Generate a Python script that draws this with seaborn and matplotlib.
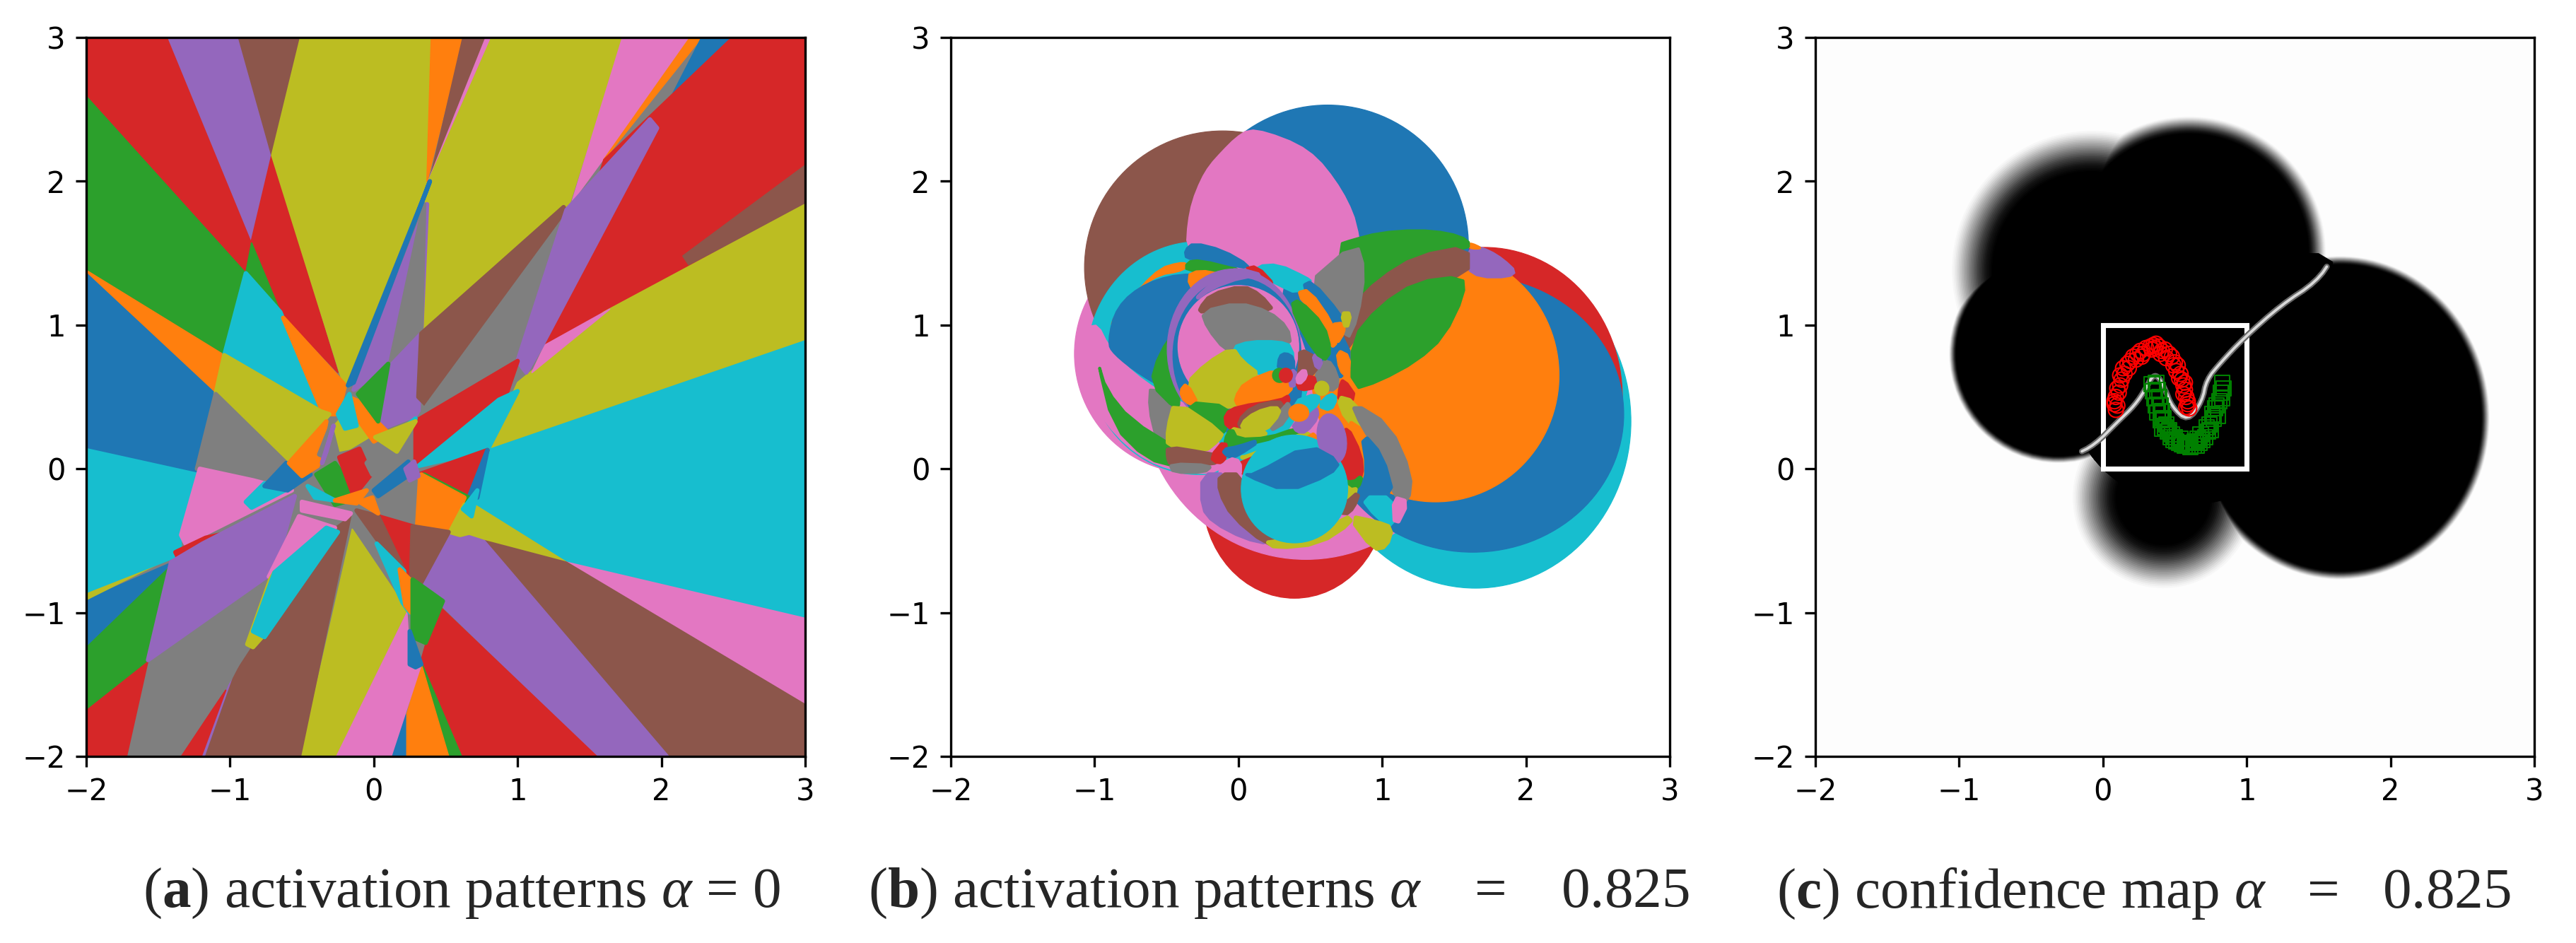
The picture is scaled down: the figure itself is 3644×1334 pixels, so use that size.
import matplotlib
matplotlib.use("Agg")
import matplotlib.pyplot as plt
from matplotlib.patches import Ellipse, Rectangle
import seaborn as sns

sns.set_theme(style="ticks", rc={
    "font.size": 10, "xtick.labelsize": 10, "ytick.labelsize": 10,
    "axes.linewidth": 0.8, "xtick.major.width": 0.8, "ytick.major.width": 0.8,
    "xtick.major.size": 3.5, "ytick.major.size": 3.5,
    "axes.edgecolor": "black", "xtick.color": "black", "ytick.color": "black",
    "mathtext.fontset": "custom", "mathtext.rm": "Liberation Serif",
    "mathtext.it": "Liberation Serif:italic", "mathtext.bf": "Liberation Serif:bold",
})
plt.rcParams["font.family"] = ["DejaVu Sans"]

COLORS = dict(zip("bogrpnkylc", sns.color_palette("tab10")))

TICKS = [-2, -1, 0, 1, 2, 3]
CAPTIONS = [r"($\mathbf{a}$) activation patterns $\alpha$ = 0",
            r"($\mathbf{b}$) activation patterns $\alpha\;\;\;\;=\;\;\;\;$0.825",
            r"($\mathbf{c}$) confidence map $\alpha\;\;\;=\;\;\;$0.825"]

# panel a: regions, painted in order (colour, corner points)
A_OUTER = [
    ("y", [(-2, -2), (3, -2), (3, 3), (-2, 3)]),
    ("r", [(-2, 3), (-1.43, 3), (-.85, 1.59), (-.89, 1.36), (-2, 2.59)]),
    ("p", [(-1.43, 3), (-.94, 3), (-.71, 2.18), (-.85, 1.59)]),
    ("n", [(-.94, 3), (-.51, 3), (-.71, 2.18)]),
    ("r", [(-.71, 2.18), (-.25, .67), (-.65, 1.09), (-.85, 1.59)]),
    ("l", [(-.51, 3), (.40, 3), (.37, 2), (-.2, .55), (-.71, 2.18)]),
    ("o", [(.40, 3), (.62, 3), (.37, 2)]),
    ("n", [(.62, 3), (.78, 3), (.40, 2.05)]),
    ("k", [(.78, 3), (.82, 3), (.38, 2)]),
    ("l", [(.82, 3), (1.73, 3), (1.36, 1.84), (.33, .96), (.35, 1.84), (.38, 2)]),
    ("k", [(1.73, 3), (2.2, 3), (1.6, 2.16), (1.38, 1.86)]),
    ("o", [(2.2, 3), (2.28, 3), (1.6, 2.15)]),
    ("b", [(2.28, 3), (2.49, 3), (2.07, 2.59)]),
    ("r", [(2.49, 3), (3, 3), (3, 1.84), (1.19, .85), (1.6, 2.15)]),
    ("n", [(3, 2.11), (3, 1.84), (2.19, 1.42), (2.15, 1.48)]),
    ("l", [(3, 1.84), (3, .89), (.79, .13), (1, .6), (1.6, 1.09)]),
    ("k", [(1.64, 1.11), (1.1, .67), (1.19, .86)]),
    ("c", [(3, .89), (3, -1.04), (1.34, -.65), (.7, -.25), (.79, .13)]),
    ("l", [(1.34, -.65), (.7, -.25), (.62, -.44), (.77, -.5)]),
    ("k", [(3, -1.04), (3, -1.64), (1.34, -.65)]),
    ("n", [(3, -1.64), (3, -2), (2.05, -2), (.77, -.5), (1.34, -.65)]),
    ("p", [(2.05, -2), (1.55, -2), (.44, -.92), (.29, -.79), (.52, -.42), (.77, -.5)]),
    ("r", [(1.55, -2), (.61, -2), (.33, -1.33), (.44, -.94)]),
    ("g", [(.61, -2), (.52, -2), (.34, -1.37)]),
    ("o", [(.52, -2), (.22, -2), (.23, -1.71), (.33, -1.36)]),
    ("b", [(.22, -2), (.12, -2), (.22, -1.71)]),
    ("k", [(.12, -2), (-.27, -2), (.23, -1), (.25, -1.33), (.33, -1.36)]),
    ("l", [(-.27, -2), (-.51, -2), (-.15, -.42), (.23, -.98)]),
    ("n", [(-1.18, -2), (-.99, -1.46), (-.8, -1.17), (-.31, -.44), (-.16, -.33), (-.51, -2)]),
    ("p", [(-1.18, -2), (-1.2, -2), (-.99, -1.46)]),
    ("r", [(-1.2, -2), (-1.35, -2), (-1.03, -1.54)]),
    ("y", [(-1.35, -2), (-1.72, -2), (-1.57, -1.33), (-.72, -.75), (-.84, -1.17), (-.99, -1.46)]),
    ("r", [(-1.72, -2), (-2, -2), (-2, -1.67), (-1.57, -1.33)]),
    ("g", [(-2, -1.67), (-2, -1.23), (-1.4, -.65), (-1.57, -1.33)]),
    ("b", [(-2, -1.23), (-2, -.91), (-1.4, -.65)]),
    ("l", [(-2, -.91), (-2, -.86), (-1.34, -.58)]),
    ("c", [(-2, -.86), (-2, .15), (-1.23, -.02), (-1.34, -.46), (-1.34, -.6)]),
    ("g", [(-2, 2.59), (-2, 1.38), (-1.04, .79), (-.89, 1.36)]),
    ("g", [(-.85, 1.57), (-.89, 1.36), (-.65, 1.09)]),
    ("o", [(-2, 1.38), (-1.04, .79), (-1.1, .53), (-2, 1.33)]),
    ("b", [(-2, 1.36), (-1.1, .52), (-1.23, -.02), (-2, .15)]),
]
A_MIDDLE = [
    ("c", [(-.89, 1.36), (-1.04, .79), (-.37, .4), (-.65, 1.09)]),
    ("o", [(-.63, 1.05), (-.35, .38), (-.25, .38), (-.2, .58)]),
    ("l", [(-1.04, .79), (-1.1, .52), (-.61, .04), (-.31, .38), (-.37, .4)]),
    ("y", [(-1.1, .52), (-1.23, 0), (-.84, -.08), (-.6, 0), (-.61, .04)]),
    ("k", [(-1.21, 0), (-1.34, -.46), (-1.31, -.52), (-.57, -.15), (-.84, -.08)]),
    ("r", [(-1.38, -.58), (-1.17, -.48), (-.9, -.42), (-1.1, -.55), (-1.36, -.62)]),
    ("p", [(-1.19, -.52), (-.55, -.19), (-.69, -.71), (-1.57, -1.33), (-1.41, -.65)]),
    ("k", [(-.52, -.33), (-.27, -.41), (-.73, -.75)]),
    ("l", [(-.69, -.72), (-.72, -.77), (-.88, -1.22), (-.84, -1.24), (-.76, -1.15)]),
    ("c", [(-.33, -.41), (-.25, -.44), (-.76, -1.17), (-.84, -1.13), (-.69, -.72)]),
    ("c", [(-.89, -.23), (-.76, -.1), (-.62, -.15), (-.85, -.27)]),
    ("b", [(-.76, -.12), (-.61, .04), (-.44, -.04), (-.6, -.15)]),
    ("o", [(-.59, .04), (-.33, .33), (-.39, .02), (-.5, -.05)]),
    ("p", [(-.14, .55), (.37, 1.84), (.33, .96), (.03, .67)]),
    ("y", [(.11, .71), (.35, 1.84), (.33, .96)]),
    ("b", [(-.18, .58), (.36, 1.92), (.39, 2), (-.14, .6)]),
    ("p", [(.11, .71), (.33, .94), (.31, .38), (.03, .27), (.03, .38)]),
    ("n", [(.33, .94), (1.32, 1.82), (1.36, 1.72), (.37, .44), (.31, .5)]),
    ("y", [(1.34, 1.76), (.37, .44), (.3, .33), (1, .75), (1.15, .9)]),
    ("p", [(1.92, 2.43), (1.97, 2.37), (1.17, .86), (1.06, .67), (1, .75), (1.34, 1.8)]),
    ("r", [(.29, .33), (1, .75), (.79, .13), (.29, .04)]),
    ("c", [(.31, .02), (.87, .48), (1, .54), (.79, .13)]),
    ("r", [(.31, -.04), (.79, .13), (.66, -.2)]),
    ("b", [(.66, -.2), (.79, .13), (.72, -.2)]),
    ("g", [(.35, -.04), (.63, -.25), (.66, -.2)]),
    ("o", [(.29, -.08), (.33, -.04), (.63, -.2), (.53, -.44), (.29, -.4)]),
    ("l", [(.53, -.44), (.63, -.25), (.68, -.44), (.6, -.46)]),
    ("c", [(.62, -.28), (.72, -.15), (.68, -.33)]),
    ("y", [(-.05, -.2), (.29, -.08), (.27, -.41), (.03, -.33)]),
    ("r", [(.03, -.33), (.27, -.4), (.26, -.79), (.2, -.75)]),
    ("n", [(.27, -.4), (.52, -.44), (.33, -.79), (.26, -.75)]),
    ("n", [(-.12, -.29), (.03, -.33), (.21, -.71), (.03, -.5)]),
    ("c", [(.02, -.52), (.21, -.71), (.25, -1), (.2, -.93)]),
    ("o", [(.18, -.7), (.27, -.79), (.26, -1.0), (.22, -.95)]),
    ("g", [(.27, -.77), (.48, -.92), (.36, -1.21), (.27, -1.17)]),
    ("b", [(.25, -1.13), (.33, -1.36), (.29, -1.38), (.25, -1.36)]),
]
A_CENTER = [
    ("l", [(-.31, .25), (-.25, .1), (0, .25), (-.19, .38)]),
    ("y", [(-.38, .1), (-.3, .3), (-.25, .1), (-.1, .13), (-.2, .02)]),
    ("p", [(-.36, .04), (-.28, .3), (-.33, .12)]),
    ("g", [(-.4, -.04), (-.27, .04), (-.1, -.2), (-.27, -.25)]),
    ("r", [(-.24, .08), (-.1, .14), (-.02, -.04), (-.14, -.19)]),
    ("y", [(-.05, .04), (.1, .2), (.22, .13), (-.01, -.04)]),
    ("b", [(0, -.15), (.24, .05), (.25, -.04), (.03, -.19)]),
    ("o", [(-.18, .5), (-.1, .33), (0, .19), (.1, .25), (.02, .33), (-.08, .46)]),
    ("g", [(-.11, .52), (.1, .73), (.03, .33)]),
    ("c", [(-.25, .38), (-.17, .52), (-.12, .3), (-.2, .28)]),
    ("c", [(.1, .2), (.29, .35), (.25, .27)]),
    ("l", [(.01, .22), (.16, .12), (.29, .33)]),
    ("k", [(-.5, -.23), (-.16, -.31), (-.2, -.35), (-.5, -.29)]),
    ("c", [(-.46, -.12), (-.27, -.22), (-.41, -.2)]),
    ("o", [(-.27, -.22), (-.05, -.15), (-.12, -.24)]),
    ("o", [(-.1, -.23), (.03, -.31), (-.01, -.2)]),
    ("p", [(.22, 0), (.28, .05), (.31, -.05), (.25, -.08)]),
]

# panel b: discs and lenses, painted back to front (colour, cx, cy, width, height, angle)
B_DISCS = [
    ("c", 1.65, .33, 2.16, 2.32, 0),
    ("r", .39, -.18, 1.28, 1.44, 0),
    ("k", .47, .55, 2.3, 2.36, 0),
    ("r", 1.71, .50, 1.92, 2.08, 0),
    ("b", 1.63, .38, 2.10, 1.92, 0),
    ("b", .62, 1.55, 1.96, 1.96, 0),
    ("o", 1.37, .65, 1.72, 1.76, 0),
    ("k", -.31, .8, 1.66, 1.66, 0),
    ("n", -.11, 1.40, 1.92, 1.90, 0),
    ("c", -.27, .77, 1.56, 1.62, 0),
]
B_BACK = [
    ("p", [(1.6, 1.57), (1.8, 1.5), (1.98, 1.33), (1.58, 1.33)]),
    ("o", [(1.6, 1.58), (1.71, 1.53), (1.6, 1.53)]),
    ("k", [(-1.01, 1.07), (-.87, .79), (-.57, .54), (-.21, .38), (-.06, -.03), (-.41, -.03),
           (-.71, .09), (-.98, .38), (-1.14, .75)]),
    ("o", [(-.9, .95), (-.6, 1.38), (-.36, 1.45), (-.36, 1.38), (-.6, 1.34), (-.85, 1.1)]),
    ("b", [(-.91, .88), (-.85, 1.13), (-.64, 1.30), (-.34, 1.37), (.11, 1.30), (.37, 1.05),
           (.49, .34), (-.08, .42), (-.41, .50), (-.68, .65), (-.87, .80)]),
]
B_LENS = [
    ("k", [(.07, 2.36), (.2, 2.34), (.41, 2.26), (.55, 2.16), (.67, 2.01), (.76, 1.86), (.82, 1.71),
           (.86, 1.46), (.86, 1.2), (.7, .9), (.3, .7), (-.1, .9), (-.36, 1.55), (-.35, 1.71),
           (-.32, 1.86), (-.26, 2.01), (-.2, 2.11), (-.11, 2.21), (-.02, 2.3)]),
]
B_RIGHT = [
    ("g", [(.7, 1.56), (.79, 1.59), (.98, 1.64), (1.24, 1.66), (1.46, 1.64), (1.6, 1.59), (1.6, 1.53),
           (1.24, 1.48), (.98, 1.32), (.79, 1.13), (.7, 1.0)]),
    ("n", [(.7, 1.0), (.79, 1.13), (.98, 1.32), (1.24, 1.48), (1.6, 1.55), (1.6, 1.34), (1.24, 1.32),
           (.98, 1.13), (.79, .88), (.7, .75)]),
    ("g", [(.79, .9), (.98, 1.13), (1.24, 1.30), (1.56, 1.34), (1.57, 1.21), (1.43, .92),
           (1.24, .75), (.98, .61), (.79, .55)]),
    ("y", [(.45, 1.26), (.82, 1.58), (.88, 1.38), (.83, 1.05), (.75, .88)]),
    ("b", [(.28, 1.27), (.47, 1.27), (.77, .88), (.77, .64), (.54, .64), (.42, 1.0)]),
    ("c", [(.13, 1.41), (.28, 1.42), (.47, 1.33), (.51, 1.30), (.41, 1.22), (.28, 1.28), (.15, 1.35)]),
    ("y", [(-.61, .59), (-.43, .41), (-.47, .25), (-.49, .04), (-.57, .21), (-.62, .42)]),
    ("g", [(-.61, .59), (-.55, .80), (-.41, 1.0), (-.41, .46), (-.43, .41)]),
    ("g", [(-.98, .75), (-.92, .55), (-.75, .34), (-.41, .13), (-.41, .01), (-.64, .07),
           (-.87, .30)]),
    ("g", [(-.36, 1.43), (-.26, 1.47), (.02, 1.40), (-.11, 1.35), (-.36, 1.38)]),
    ("b", [(-.37, 1.52), (-.31, 1.57), (-.11, 1.52), (.08, 1.41), (.02, 1.40), (-.26, 1.47), (-.36, 1.46)]),
    ("o", [(-.36, 1.34), (-.27, 1.38), (-.11, 1.35), (-.29, 1.19)]),
    ("r", [(.04, 1.39), (.13, 1.41), (.26, 1.27), (.15, 1.35)]),
]
B_RINGS = [
    ("p", -.03, .83, .93, 1.12, 0),
    ("b", -.01, .79, .89, 1.08, 0),
    ("k", 0, .85, .84, .85, 0),
]
B_INNER = [
    ("p", [(-.31, 1.17), (-.11, 1.35), (0, 1.39), (.18, 1.34), (.03, 1.34), (-.19, 1.26)]),
    ("n", [(-.27, 1.11), (-.19, 1.21), (.03, 1.27), (.15, 1.21), (.25, 1.09), (0, 1.15), (-.25, 1.09)]),
    ("y", [(-.25, 1.09), (0, 1.15), (.21, 1.09), (.34, .98), (.36, .86), (.21, .89), (-.04, .85),
           (-.09, .83), (-.21, .98)]),
    ("c", [(-.04, .84), (.08, .88), (.28, .88), (.37, .85), (.38, .67), (.28, .69), (.15, .65), (.02, .75)]),
    ("l", [(-.36, .59), (-.22, .73), (-.04, .84), (.02, .75), (.15, .65), (.03, .57), (-.02, .47),
           (0, .43), (-.27, .44)]),
    ("o", [(-.4, .54), (-.36, .59), (-.28, .44), (-.37, .47)]),
    ("b", [(.28, .69), (.29, .78), (.33, .80), (.38, .77), (.38, .67)]),
    ("o", [(-.02, .49), (.05, .60), (.28, .69), (.37, .60), (.36, .54), (.25, .47), (0, .44)]),
    ("p", [(.37, .69), (.41, .65), (.39, .58), (.36, .58)]),
    ("g", [(-.37, .46), (-.06, .43), (-.09, .29), (-.11, .25), (-.24, .29)]),
    ("l", [(-.44, .47), (-.11, .25), (-.14, .2), (-.24, .12), (-.49, .15), (-.49, .28)]),
    ("n", [(-.49, .15), (-.24, .11), (-.1, .08), (-.19, .03), (-.47, .03), (-.49, .08)]),
    ("y", [(-.47, .03), (-.19, .02), (-.24, -.02), (-.45, -.02)]),
    ("r", [(-.09, .38), (0, .43), (.29, .47), (.36, .51), (.31, .39), (.02, .28), (-.08, .29)]),
    ("n", [(0, .33), (.10, .43), (.28, .47), (.31, .43), (.21, .29), (.03, .26)]),
    ("y", [(.29, .39), (.36, .47), (.33, .33), (.21, .26)]),
    ("l", [(.02, .31), (.12, .39), (.26, .43), (.29, .39), (.18, .26), (.05, .26)]),
    ("l", [(-.05, .28), (.03, .26), (.21, .26), (.12, .2), (-.03, .2)]),
    ("g", [(-.09, .2), (-.05, .28), (-.01, .2), (.21, .21), (.41, .28), (.44, .25), (.15, .2),
           (.02, .15), (-.08, .15)]),
    ("r", [(-.19, .08), (-.09, .2), (-.09, .07), (-.14, .04)]),
    ("b", [(-.11, .13), (0, .15), (.15, .2), (0, .1), (-.06, .08)]),
    ("l", [(.05, .08), (.25, .16), (.47, .25), (.5, .23), (.38, .1), (.13, .07), (.02, .08)]),
    ("r", [(.02, .07), (.38, .1), (.44, .15), (.34, .02), (.15, -.05), (.03, -.05)]),
    ("k", [(-.14, -.02), (-.06, .07), (.01, .05), (.01, -.05), (-.08, -.07)]),
    ("p", [(.38, .31), (.54, .43), (.55, .36), (.47, .26), (.41, .26)]),
    ("c", [(.38, .46), (.55, .52), (.56, .46), (.46, .38)]),
    ("c", [(.56, .44), (.64, .52), (.68, .49), (.64, .41)]),
    ("y", [(.54, .64), (.59, .75), (.65, .73), (.70, .59), (.64, .54), (.54, .60)]),
    ("n", [(.43, .83), (.54, .77), (.54, .67), (.42, .63), (.43, .73)]),
    ("p", [(.52, .8), (.58, .75), (.55, .69)]),
    ("r", [(.41, .60), (.52, .65), (.54, .57), (.43, .55)]),
    ("k", [(.41, .64), (.46, .69), (.47, .64), (.42, .59)]),
    ("r", [(.73, .62), (.82, .49), (.70, .47), (.71, .57)]),
    ("o", [(.69, .82), (.77, .78), (.76, .64), (.71, .69)]),
    ("b", [(.45, 1.27), (.51, 1.30), (.70, 1.08), (.73, 1.0), (.67, 1.01), (.54, 1.17)]),
    ("o", [(.41, 1.22), (.49, 1.24), (.65, 1.01), (.68, .88), (.65, .85), (.54, 1.08)]),
    ("g", [(.37, 1.14), (.42, 1.17), (.59, 1.0), (.64, .82), (.59, .75), (.46, .93)]),
    ("o", [(.65, 1.0), (.73, 1.01), (.73, .95), (.68, .87)]),
    ("l", [(.72, 1.08), (.78, 1.08), (.75, .97)]),
    ("l", [(.69, .5), (.8, .47), (.89, .29), (.89, .25), (.75, .34)]),
    ("o", [(.75, .34), (.89, .25), (.9, .1), (.86, 0)]),
    ("o", [(.46, .2), (.54, .25), (.64, .02), (.57, .03)]),
    ("r", [(.75, .3), (.85, .1), (.86, -.05), (.8, -.1), (.7, -.08), (.64, .04), (.7, .04), (.75, .18)]),
    ("g", [(.7, -.08), (.8, -.1), (.86, -.05), (.83, -.13), (.77, -.15)]),
    ("l", [(.57, .02), (.67, -.03), (.77, -.15), (.83, -.14), (.75, -.24), (.69, -.24)]),
    ("n", [(.67, -.26), (.75, -.24), (.84, -.16), (.8, -.27), (.74, -.32)]),
    ("y", [(.79, .46), (1.05, .3), (1.2, -.04), (1.18, -.23), (1.09, -.2), (1.0, .09), (.86, .3)]),
    ("b", [(.86, .25), (1.0, .09), (1.08, -.2), (.86, -.16), (.9, 0)]),
    ("c", [(.86, -.2), (1.08, -.2), (1.08, -.41), (.96, -.33)]),
    ("k", [(1.08, -.2), (1.18, -.23), (1.09, -.41)]),
    ("l", [(.77, -.33), (.96, -.37), (1.07, -.41), (1.03, -.54), (.94, -.56)]),
    ("p", [(-.25, -.04), (-.08, -.04), (.22, -.52), (.04, -.48), (-.17, -.37), (-.25, -.27)]),
    ("n", [(-.13, -.04), (.02, -.04), (.11, -.33), (.3, -.52), (.19, -.52), (-.04, -.33), (-.13, -.16)]),
    ("l", [(.19, -.5), (.49, -.52), (.75, -.33), (.79, -.37), (.56, -.52), (.26, -.55)]),
]
B_SPOTS = [
    ("c", .39, -.14, .74, .75, 0),
    ("p", .65, .21, .2, .35, 10),
    ("o", .42, .39, .14, .12, 0),
    ("g", .287, .65, .1, .1, 0),
    ("r", .33, .65, .092, .1, 0),
    ("l", .58, .56, .1, .1, 0),
]
B_TOP = [
    ("b", [(.04, -.04), (.34, -.16), (.64, -.04), (.71, .05), (.49, .17), (.11, -.04)]),
]

# panel c: lobes of the confidence map (cx, cy, width, height, fade width), soft ones first
LOBE_X = [-.08, .42, .60, -.31, 1.65, .60]
LOBE_Y = [1.38, -.20, 1.50, .80, .355, .60]
LOBE_W = [1.94, 1.26, 1.90, 1.52, 2.08, 1.70]
LOBE_H = [1.94, 1.26, 1.90, 1.52, 2.25, 1.70]
LOBE_FADE = [.28, .30, .12, .05, .06, 0]
FADE_GRAYS = [.97, .94, .90, .86, .81, .76, .71, .66, .61, .56, .51, .46, .41, .36, .31, .26, .22, .18,
              .14, .10, .07, .05, .03, .01, 0]
CORE_X = [-.1, -.1, .6, 1.5, 1.6, 1.5, .6, 0]
CORE_Y = [.14, 1.3, 1.5, 1.5, 1.44, .6, -.2, .02]

BOUNDARY_X = [-.2, -.057, .105, .22, .30, .34, .38, .43, .48, .59, .69, .72, .82, .97, 1.24, 1.485, 1.6]
BOUNDARY_Y = [.095, .166, .33, .44, .56, .64, .65, .56, .43, .33, .47, .62, .74, .90, 1.14, 1.30, 1.47]

RED_X = [.09, .10, .08, .09, .11, .08, .12, .10, .13, .12, .15, .14, .17, .19, .18, .21, .24, .23, .26, .28,
         .30, .27, .33, .35, .37, .34, .36, .39, .41, .43, .40, .46, .44, .48, .50, .49, .52, .51, .54, .53,
         .55, .56, .57, .56, .58, .59, .58, .60, .59, .57]
RED_Y = [.41, .44, .47, .50, .53, .45, .58, .56, .62, .65, .66, .70, .73, .75, .70, .78, .80, .76, .82, .80,
         .84, .78, .85, .86, .87, .83, .84, .85, .82, .83, .80, .80, .77, .78, .74, .72, .72, .68, .66, .63,
         .62, .58, .55, .52, .50, .47, .43, .42, .45, .60]
GREEN_X = [.34, .37, .35, .38, .36, .39, .37, .40, .38, .41, .40, .42, .43, .41, .45, .44, .47, .46, .49, .48,
           .51, .50, .53, .55, .54, .57, .59, .58, .61, .60, .63, .65, .64, .67, .66, .69, .68, .71, .73, .72,
           .75, .74, .77, .76, .78, .80, .79, .81, .83, .82, .84, .83]
GREEN_Y = [.59, .60, .54, .55, .49, .50, .44, .44, .39, .40, .34, .35, .29, .28, .26, .31, .22, .27, .20, .24,
           .19, .22, .18, .17, .21, .16, .16, .18, .15, .18, .16, .16, .19, .18, .21, .20, .24, .22, .26, .29,
           .27, .31, .35, .38, .42, .37, .44, .47, .49, .53, .56, .60]

AXES_LEFT = [122, 1345, 2568]
AXES_WIDTH = 1017
AXES_TOP = 53
CAPTION_X = [653, 1809, 3032]
CAPTION_Y = 1264
FIG_W, FIG_H = 3644, 1334


def smooth(pts, rounds=2, closed=True):
    # corner cutting so the hand-read outlines come out as curves
    for _ in range(rounds):
        new = []
        pairs = list(zip(pts, pts[1:] + pts[:1])) if closed else list(zip(pts[:-1], pts[1:]))
        for (x0, y0), (x1, y1) in pairs:
            new.append((.75 * x0 + .25 * x1, .75 * y0 + .25 * y1))
            new.append((.25 * x0 + .75 * x1, .25 * y0 + .75 * y1))
        pts = new
    return pts


def draw_polys(ax, polys, lw=.5, rounds=0):
    for color, pts in polys:
        xs, ys = zip(*smooth(pts, rounds))
        ax.fill(xs, ys, color=COLORS[color], lw=lw, joinstyle="round")


def draw_discs(ax, discs):
    for color, cx, cy, w, h, angle in discs:
        ax.add_patch(Ellipse((cx, cy), w, h, angle=angle, color=COLORS[color], lw=.3))


def draw_panel_a(ax):
    draw_polys(ax, A_OUTER)
    draw_polys(ax, A_MIDDLE, lw=1.5)
    draw_polys(ax, A_CENTER, lw=1.5)


def draw_panel_b(ax):
    draw_discs(ax, B_DISCS)
    draw_polys(ax, B_BACK, rounds=2)
    draw_polys(ax, B_LENS, rounds=1)
    draw_polys(ax, B_RIGHT, lw=1, rounds=1)
    draw_discs(ax, B_RINGS)
    draw_polys(ax, B_INNER, lw=1.5, rounds=1)
    draw_discs(ax, B_SPOTS)
    draw_polys(ax, B_TOP, lw=1, rounds=1)


def draw_panel_c(ax):
    ax.set_facecolor("#fdfdfd")
    # light rings first so that a dark lobe is never covered by a neighbour's fade
    for i, gray in enumerate(FADE_GRAYS):
        for cx, cy, w, h, fade in zip(LOBE_X, LOBE_Y, LOBE_W, LOBE_H, LOBE_FADE):
            step = fade * i / (len(FADE_GRAYS) - 1)
            ax.add_patch(Ellipse((cx, cy), w - 2 * step, h - 2 * step, color=str(gray), lw=0))
    ax.fill(CORE_X, CORE_Y, color="black", lw=0)
    curve_x, curve_y = zip(*smooth(list(zip(BOUNDARY_X, BOUNDARY_Y)), closed=False))
    ax.plot(curve_x, curve_y, color="0.4", lw=2, solid_capstyle="round")
    ax.plot(curve_x, curve_y, color="0.85", lw=.9, solid_capstyle="round")
    ax.add_patch(Rectangle((0, 0), 1, 1, fill=False, edgecolor="white", lw=1.7))
    sns.scatterplot(x=RED_X, y=RED_Y, marker="o", s=26, facecolor="none", edgecolor="red",
                    linewidth=.5, ax=ax, zorder=3)
    sns.scatterplot(x=GREEN_X, y=GREEN_Y, marker="s", s=26, facecolor="none", edgecolor="green",
                    linewidth=.5, ax=ax, zorder=3)


fig = plt.figure(figsize=(FIG_W / 300, FIG_H / 300), dpi=300)
panels = [draw_panel_a, draw_panel_b, draw_panel_c]
for left, caption, cap_x, draw in zip(AXES_LEFT, CAPTIONS, CAPTION_X, panels):
    bottom = FIG_H - AXES_TOP - AXES_WIDTH
    ax = fig.add_axes([left / FIG_W, bottom / FIG_H, AXES_WIDTH / FIG_W, AXES_WIDTH / FIG_H])
    draw(ax)
    ax.set_xlim(-2, 3)
    ax.set_ylim(-2, 3)
    ax.set_xticks(TICKS)
    ax.set_yticks(TICKS)
    ax.set_axisbelow(False)
    fig.text(cap_x / FIG_W, 1 - CAPTION_Y / FIG_H, caption, ha="center", va="center",
             fontsize=19.5, family="Liberation Serif")

fig.savefig("out.png", dpi=300)
plt.close(fig)
